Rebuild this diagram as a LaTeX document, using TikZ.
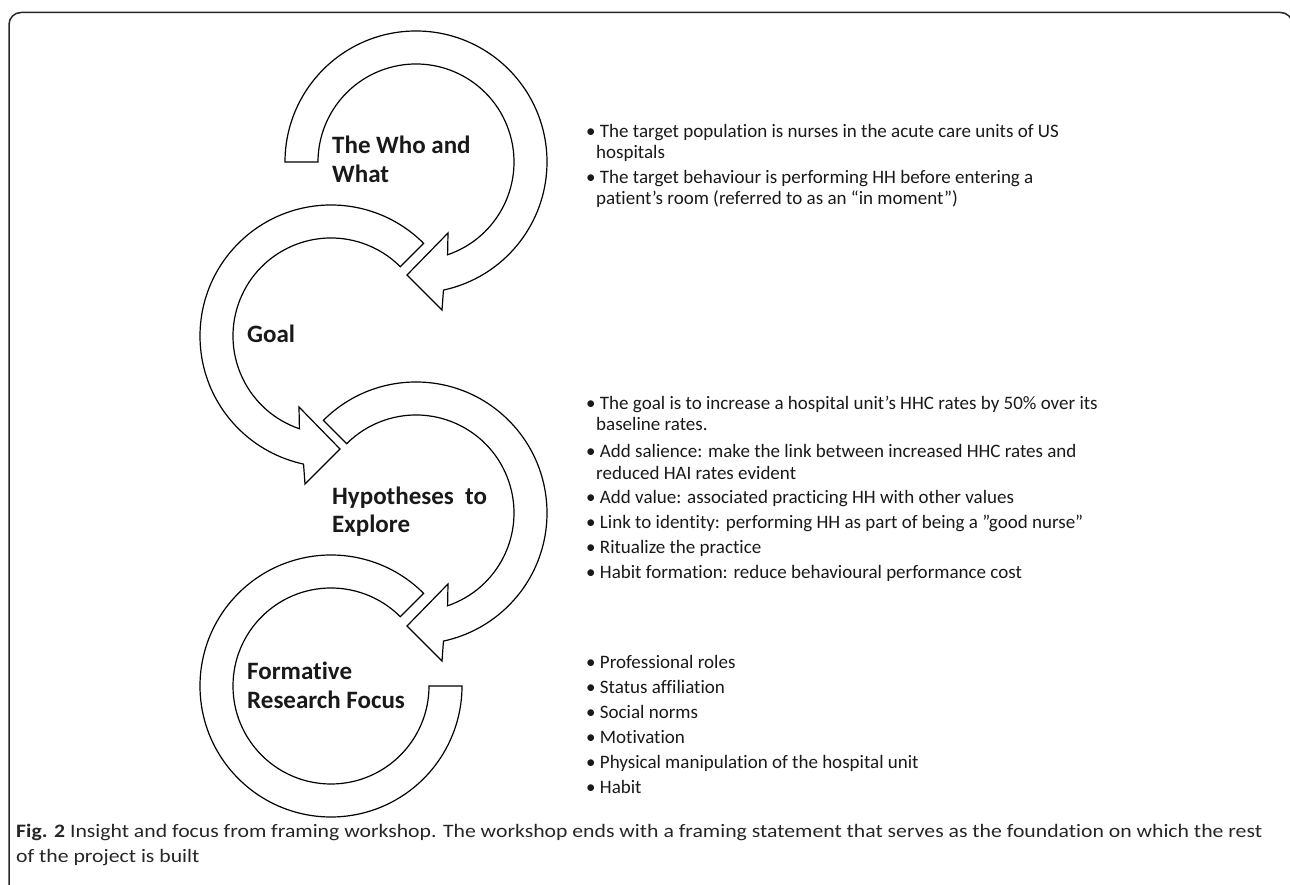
\documentclass[tikz,border=0pt]{standalone}
\usepackage{fontspec}
\setmainfont{Carlito}[Ligatures={NoCommon}]
\usetikzlibrary{calc}
\newlength{\figcapw}
\newcommand{\figcaplineone}{\textbf{Fig. 2} Insight and focus from framing workshop. The workshop ends with a framing statement that serves as the foundation on which the rest}
\begin{document}
\settowidth{\figcapw}{\fontsize{19}{23}\selectfont\figcaplineone}%
\begin{tikzpicture}[x=1pt,y=1pt,
  band/.style={draw=black, line width=1.2pt, fill=white, line join=miter},
  lbl/.style={font=\fontsize{25}{29}\selectfont\bfseries, anchor=base west, inner sep=0pt, text=black!90},
  bul/.style={font=\fontsize{19}{23}\selectfont, anchor=base west, inner sep=0pt, text=black!90},
  figcap/.style={font=\fontsize{19}{23}\selectfont, anchor=base west, inner sep=0pt, text=black!85}]
\useasboundingbox (0,0) rectangle (1290,885);
\draw[line width=1.5pt, rounded corners=12pt, color=black!85] (9,-20) -- (9,872.5) -- (1292.5,872.5) -- (1292.5,-20);

\coordinate (c1) at (416,723);
\coordinate (c2) at (331,549);
\coordinate (c3) at (416,372);
\coordinate (c4) at (331,199);

% circle 1: clockwise
\draw[band] ($(c1)+(180:131pt)$) arc[start angle=180, end angle=-77.9, radius=131pt]
  -- ($(c1)+(26pt,-148pt)$) -- ($(c1)+(-9pt,-113pt)$) -- ($(c1)+(32pt,-71pt)$)
  -- ($(c1)+(-71.2:98pt)$) arc[start angle=-71.2, end angle=180, radius=98pt] -- cycle;
% circle 2: counter-clockwise
\draw[band] ($(c2)+(45:131pt)$) arc[start angle=45, end angle=257.9, radius=131pt]
  -- ($(c2)+(-26pt,-148pt)$) -- ($(c2)+(9pt,-113pt)$) -- ($(c2)+(-32pt,-71pt)$)
  -- ($(c2)+(251.2:98pt)$) arc[start angle=251.2, end angle=45, radius=98pt] -- cycle;
% circle 3: clockwise
\draw[band] ($(c3)+(135:131pt)$) arc[start angle=135, end angle=-77.9, radius=131pt]
  -- ($(c3)+(26pt,-148pt)$) -- ($(c3)+(-9pt,-113pt)$) -- ($(c3)+(32pt,-71pt)$)
  -- ($(c3)+(-71.2:98pt)$) arc[start angle=-71.2, end angle=135, radius=98pt] -- cycle;
% circle 4: plain arc
\draw[band] ($(c4)+(45:131pt)$) arc[start angle=45, end angle=360, radius=131pt]
  -- ($(c4)+(0:98pt)$) arc[start angle=360, end angle=45, radius=98pt] -- cycle;

% circle labels
\node[lbl] (l1a) at (332,731) {The Who and};
\node[lbl] (l1b) at (332,702) {What};
\node[lbl] (l2) at (247,542) {Goal};
\node[lbl] (l3a) at (332,380) {Hypotheses\ \ to};
\node[lbl] (l3b) at (332,352) {Explore};
\node[lbl] (l4a) at (247,205) {Formative};
\node[lbl] (l4b) at (247,176) {Research Focus};

% bullets
\node[bul] (t1) at (586,747) {• The target population is nurses in the acute care units of US};
\node[bul] (t1b) at (596,726) {hospitals};
\node[bul] (t2) at (586,701) {• The target behaviour is performing HH before entering a};
\node[bul] (t2b) at (596,680) {patient’s room (referred to as an “in moment”)};

\node[bul] (g1) at (586,475) {• The goal is to increase a hospital unit’s HHC rates by 50\% over its};
\node[bul] (g1b) at (596,454) {baseline rates.};

\node[bul] (h1) at (586,427) {• Add salience: make the link between increased HHC rates and};
\node[bul] (h1b) at (596,405) {reduced HAI rates evident};
\node[bul] (h2) at (586,381) {• Add value: associated practicing HH with other values};
\node[bul] (h3) at (586,356) {• Link to identity: performing HH as part of being a \symbol{34}good nurse\symbol{34}};
\node[bul] (h4) at (586,331) {• Ritualize the practice};
\node[bul] (h5) at (586,306) {• Habit formation: reduce behavioural performance cost};

\node[bul] (f1) at (586,216) {• Professional roles};
\node[bul] (f2) at (586,191) {• Status affiliation};
\node[bul] (f3) at (586,166) {• Social norms};
\node[bul] (f4) at (586,141) {• Motivation};
\node[bul] (f5) at (586,116) {• Physical manipulation of the hospital unit};
\node[bul] (f6) at (586,91) {• Habit};

% caption
\pgfmathsetmacro{\figcapsx}{1246/\figcapw}
\node[figcap] (cap1) at (16,47) {\scalebox{\figcapsx}[1]{\figcaplineone}};
\node[figcap] (cap2) at (16,22) {\scalebox{\figcapsx}[1]{of the project is built}};
\end{tikzpicture}
\end{document}
